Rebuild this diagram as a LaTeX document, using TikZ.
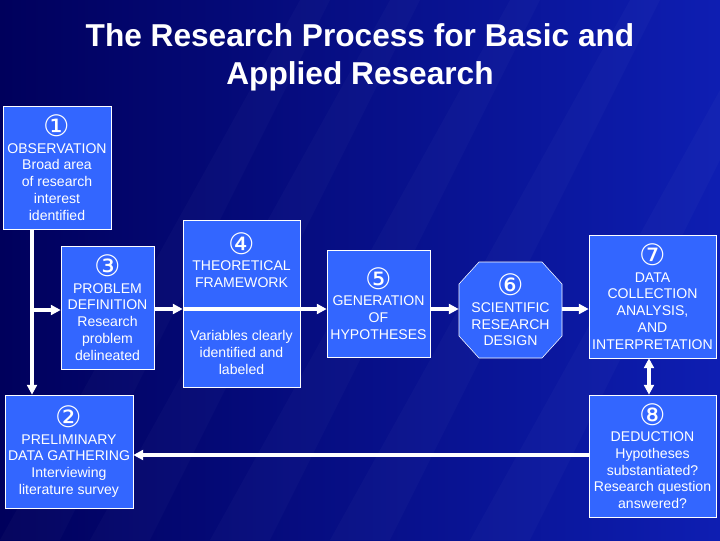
\documentclass[tikz,border=0pt]{standalone}
\usepackage{fontspec}
\setmainfont{Liberation Sans}
\newfontfamily\circfont{DejaVu Sans}
\usetikzlibrary{positioning,shapes.geometric,arrows.meta}

\definecolor{bgdark}{RGB}{0,0,92}
\definecolor{bglight}{RGB}{14,30,178}
\definecolor{boxblue}{RGB}{51,102,255}

\newcommand{\stepno}[1]{{\circfont\fontsize{21}{14}\selectfont #1}}

\tikzset{
  stage/.style={draw=white, fill=boxblue, text=white, align=center,
    font=\fontsize{10}{11.9}\selectfont, inner sep=1pt},
  flow/.style={white, line width=2.2pt, -{Triangle[length=7pt,width=7pt]}},
  twoway/.style={white, line width=2.2pt, {Triangle[length=7pt,width=7pt]}-{Triangle[length=7pt,width=7pt]}},
}

\begin{document}
\begin{tikzpicture}[x=0.025cm, y=-0.025cm]
	\useasboundingbox (0,0) rectangle (720,540);
	% slide background
	\begin{scope}
		\clip (0,0) rectangle (720,540);
		\shade[left color=bgdark, right color=bglight] (0,0) rectangle (720,540);
		\foreach \s in {0,90,210,330,470}
			\fill[white, opacity=0.025] (\s,540) -- (\s+60,540) -- (\s+330,0) -- (\s+300,0) -- cycle;
	\end{scope}
	%
	\node[text=white, align=center, font=\bfseries\fontsize{22.5}{27}\selectfont] (title) at (360,57)
		{The Research Process for Basic and\\Applied Research};
	%
	\node[stage, minimum width=2.7cm, minimum height=3.075cm] (obs) at (57,167.5)
		{\stepno{①}\\OBSERVATION\\Broad area\\of research\\interest\\identified};
	\node[stage, minimum width=2.325cm, minimum height=3.075cm] (prob) at (107.5,307.5)
		{\stepno{③}\\PROBLEM\\DEFINITION\\Research\\problem\\delineated};
	\node[stage, minimum width=2.925cm, minimum height=4.175cm] (theory) at (241.5,303.5)
		{\stepno{④}\\THEORETICAL\\FRAMEWORK\\[26pt]Variables clearly\\identified and\\labeled};
	\node[stage, minimum width=2.575cm, minimum height=2.675cm] (gen) at (378.5,303.5)
		{\stepno{⑤}\\GENERATION\\OF\\HYPOTHESES};
	% octagon drawn by hand, text node on top
	\filldraw[draw=white, fill=boxblue] (479,262) -- (542,262) -- (562,284) -- (562,336) -- (542,358)
		-- (479,358) -- (459,336) -- (459,284) -- cycle;
	\node[stage, draw=none, fill=none, minimum width=2.575cm, minimum height=2.4cm] (design) at (510.5,310)
		{\stepno{⑥}\\SCIENTIFIC\\RESEARCH\\DESIGN};
	\node[stage, minimum width=3.175cm, minimum height=3.075cm] (data) at (652.5,296.5)
		{\stepno{⑦}\\DATA\\COLLECTION\\ANALYSIS,\\AND\\INTERPRETATION};
	\node[stage, minimum width=3.175cm, minimum height=3.05cm] (deduct) at (652.5,456)
		{\stepno{⑧}\\DEDUCTION\\Hypotheses\\substantiated?\\Research question\\answered?};
	\node[stage, minimum width=3.2cm, minimum height=2.825cm] (prelim) at (69,451.5)
		{\stepno{②}\\PRELIMINARY\\DATA GATHERING\\Interviewing\\literature survey};
	%
	\coordinate (fork) at (32,310);
	\coordinate (mid) at (0,309);
	\coordinate (low) at (0,455);
	\draw[flow] (obs.south -| fork) -- (fork |- prelim.north);
	\draw[flow] (fork) -- (fork -| prob.west);
	\draw[flow] (prob.east |- mid) -- (theory.west |- mid);
	\draw[flow] (theory.west |- mid) -- (gen.west |- mid);
	\draw[flow] (gen.east |- mid) -- (design.west |- mid);
	\draw[flow] (design.east |- mid) -- (data.west |- mid);
	\draw[twoway] ([xshift=-2.5]data.south) -- ([xshift=-2.5]deduct.north);
	\draw[flow] (deduct.west |- low) -- (prelim.east |- low);
\end{tikzpicture}
\end{document}
